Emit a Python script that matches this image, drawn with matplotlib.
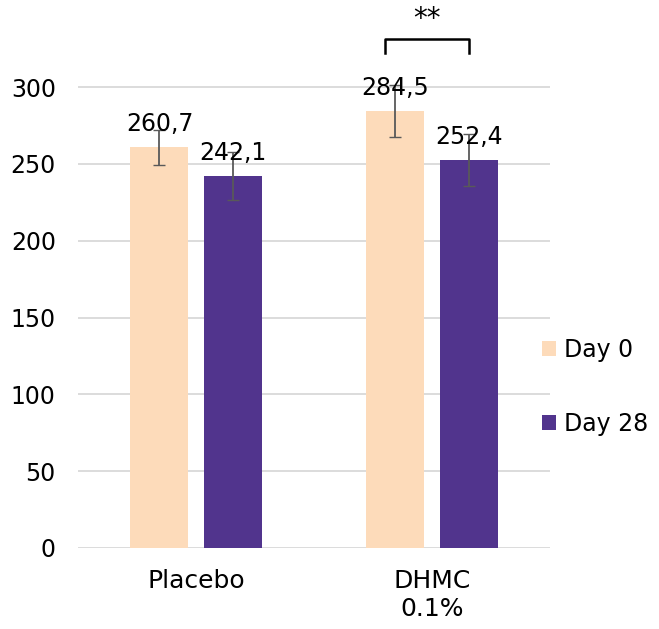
import numpy as np
import matplotlib.pyplot as plt

categories = ['Placebo', 'DHMC\n0.1%']
series = ['Day 0', 'Day 28']
day0 = [260.7, 284.5]
day28 = [242.1, 252.4]
err0 = [11.5, 17]
err28 = [15.5, 17]
colors = ['#FDDBBA', '#51348D']

plt.rcParams['font.family'] = 'DejaVu Sans'
plt.rcParams['font.size'] = 17

fig = plt.figure(figsize=(6.59, 6.29), dpi=100)
ax = fig.add_axes([0.1184, 0.1288, 0.7162, 0.855])

x = np.arange(len(categories))
w = 0.246
off = 0.155
b0 = ax.bar(x - off, day0, w, color=colors[0], label=series[0], zorder=2)
b1 = ax.bar(x + off, day28, w, color=colors[1], label=series[1], zorder=2)
ax.errorbar(x - off, day0, yerr=err0, fmt='none', ecolor='#595959', elinewidth=1.3, capsize=4.5, zorder=3)
ax.errorbar(x + off, day28, yerr=err28, fmt='none', ecolor='#595959', elinewidth=1.3, capsize=4.5, zorder=3)

for bars, vals in [(b0, day0), (b1, day28)]:
    for r, v in zip(bars, vals):
        ax.annotate(f'{v:.1f}'.replace('.', ','), (r.get_x() + r.get_width() / 2, v),
                    xytext=(0, 8), textcoords='offset points', ha='center', va='bottom',
                    fontsize=17, zorder=4)

# significance bracket
bx0, bx1 = 1 - off - 0.045, 1 + off
ax.plot([bx0, bx0, bx1, bx1], [322, 331.5, 331.5, 322], color='black', lw=1.8, clip_on=False)
ax.text((bx0 + bx1) / 2, 335, '**', ha='center', va='bottom', fontsize=20)

ax.set_xlim(-0.5, 1.5)
ax.set_ylim(0, 350)
ax.set_yticks(range(0, 301, 50))
ax.set_xticks(x)
ax.set_xticklabels(categories, fontsize=18)
ax.grid(axis='y', color='#D9D9D9', lw=1.3, zorder=0)
ax.tick_params(length=0)
ax.tick_params(axis='x', pad=15)
ax.tick_params(axis='y', pad=16)
for s in ax.spines.values():
    s.set_visible(False)

fig.legend(loc='center left', bbox_to_anchor=(0.822, 0.385), frameon=False,
           borderpad=0, borderaxespad=0,
           handlelength=0.6, handleheight=0.6, handletextpad=0.35, labelspacing=2.1,
           fontsize=17)

plt.savefig('out.png', dpi=100)
